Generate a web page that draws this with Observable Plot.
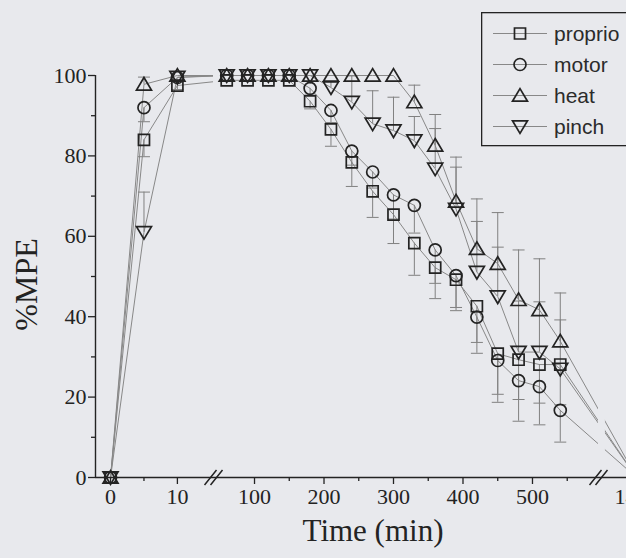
<!DOCTYPE html>
<html><head><meta charset="utf-8">
<script src="https://cdn.jsdelivr.net/npm/d3@7"></script>
<script src="https://cdn.jsdelivr.net/npm/@observablehq/plot@0.6"></script>
<style>
html,body{margin:0;padding:0;background:#e8e9ed;overflow:hidden;}
#wrap{position:relative;width:626px;height:558px;}
#legend{position:absolute;left:481px;top:12px;}
</style></head><body><div id="wrap"></div>
<script>
// ---- data ----
const times = [0, 5, 10, 60, 90, 120, 150, 180, 210, 240, 270, 300, 330, 360, 390, 420, 450, 480, 510, 540, 1440];
const proprio   = [0, 84, 97.5, 98.8, 98.8, 98.8, 98.8, 93.6, 86.6, 78.4, 71.2, 65.4, 58.3, 52.2, 49.2, 42.6, 30.8, 29.3, 28.1, 28.1, 0];
const proprioSE = [0, 4.2, 1, 0, 0, 0, 0, 1.9, 4.2, 6, 6.5, 7.2, 8, 7.7, 7.7, 9, 10.1, 9.9, 9.6, 10, 0];
const motor     = [0, 92, 99.5, 100, 100, 100, 100, 96.8, 91.3, 81.2, 76, 70.3, 67.7, 56.6, 50.2, 39.9, 29.1, 24.1, 22.6, 16.7, 0];
const motorSE   = [0, 3.5, 0, 0, 0, 0, 0, 2, 3, 3.5, 4, 6, 6.9, 8.3, 7.9, 9, 10.4, 10.1, 9.5, 7.9, 0];
const heat      = [0, 97.8, 100, 100, 100, 100, 100, 100, 100, 100, 100, 100, 93.4, 82.6, 68.7, 56.9, 53.2, 44.2, 41.7, 33.9, 0];
const heatSE    = [0, 1.8, 0, 0, 0, 0, 0, 0, 0, 0, 0, 0, 4.2, 7.7, 11, 12.4, 12.7, 12.4, 12.7, 12, 0];
const pinch     = [0, 61, 99.6, 100, 100, 100, 100, 100, 97, 93.4, 88, 86.3, 83.8, 76.8, 66.8, 51.1, 45, 31.2, 31.2, 27, 0];
const pinchSE   = [0, 10, 0, 0, 0, 0, 0, 0, 1.5, 6.5, 8.2, 8.3, 6, 10, 10.4, 12.6, 12.3, 12.7, 12.5, 12.2, 0];

const seriesNames = ["proprio", "motor", "heat", "pinch"];
const errorDirection = [-1, -1, 1, 1];

// axis (broken x axis: piecewise scale)
const xBreakDomain = [-2.25, 15.4, 44, 595, 1388, 1440];
const xBreakRange  = [95, 213, 215.1, 598, 603, 636];
const xGaps = [[15.4, 51], [595, 1391]];
const xBreaks = [15.55, 595.5];
const xTicks = [0, 10, 100, 200, 300, 400, 500, 1440];
const xMinorTicks = [5, 150, 250, 350, 450, 550];
const yTicks = [0, 20, 40, 60, 80, 100];
const yMinorTicks = [10, 30, 50, 70, 90];

// ---- build tables ----
const seriesValues = [proprio, motor, heat, pinch];
const seriesSE = [proprioSE, motorSE, heatSE, pinchSE];
const rows = seriesNames.flatMap((s, i) => times.map((t, j) => ({
  series: s, t, v: seriesValues[i][j], se: seriesSE[i][j], dir: errorDirection[i]
})));
const errRows = rows.filter(d => d.se > 0).map(d => ({...d, end: d.v + d.dir * d.se}));

// ---- symbols ----
const R = s => Math.sqrt(s / Math.PI);
const squareSym = {draw(c, s) {const h = R(s) * 0.92; c.moveTo(-h, -h); c.lineTo(h, -h); c.lineTo(h, h); c.lineTo(-h, h); c.closePath();}};
const circleSym = {draw(c, s) {const r = R(s); c.moveTo(r, 0); c.arc(0, 0, r, 0, 2 * Math.PI);}};
const triUpSym = {draw(c, s) {const r = R(s); c.moveTo(0, -1.15 * r); c.lineTo(1.25 * r, 0.95 * r); c.lineTo(-1.25 * r, 0.95 * r); c.closePath();}};
const triDownSym = {draw(c, s) {const r = R(s); c.moveTo(0, 1.15 * r); c.lineTo(1.25 * r, -0.95 * r); c.lineTo(-1.25 * r, -0.95 * r); c.closePath();}};
const capSym = {draw(c, s) {const r = R(s); c.moveTo(-r, 0); c.lineTo(r, 0);}};
const breakSym = {draw(c, s) {const r = R(s); c.moveTo(-1.2 * r, r); c.lineTo(0.4 * r, -r); c.moveTo(-0.4 * r, r); c.lineTo(1.2 * r, -r);}};
const seriesSymbols = [squareSym, circleSym, triUpSym, triDownSym];

const bg = "#e8e9ed";
const ink = "#232323";
const serif = "'Liberation Serif', 'Times New Roman', serif";

const marks = [
  Plot.line(rows, {x: "t", y: "v", z: "series", stroke: "#888", strokeWidth: 1}),
  Plot.rect(xGaps, {x1: d => d[0], x2: d => d[1], y1: 0, y2: 100, insetBottom: 3, insetTop: -6, fill: bg}),
  Plot.ruleX(errRows, {x: "t", y1: "v", y2: "end", stroke: "#808080", strokeWidth: 1}),
  Plot.dot(errRows, {x: "t", y: "end", symbol: capSym, r: 6, stroke: "#808080", strokeWidth: 1, fill: "none"}),
  ...seriesNames.map((s, i) => Plot.dot(rows.filter(d => d.series === s), {
    x: "t", y: "v", symbol: seriesSymbols[i], r: 6, stroke: ink, strokeWidth: 1.7, fill: "none"
  })),
  Plot.ruleY([0], {stroke: ink, strokeWidth: 1.4}),
  Plot.ruleX([xBreakDomain[0]], {y1: 0, y2: 100, stroke: ink, strokeWidth: 1.4}),
  Plot.axisX(xTicks, {tickSize: 7, tickPadding: 4, fontSize: 22, fontFamily: serif, label: null, tickFormat: d => String(d), stroke: ink, strokeWidth: 1.3}),
  Plot.axisX(xMinorTicks, {tickSize: 4, label: null, tickFormat: () => "", stroke: ink, strokeWidth: 1.3}),
  Plot.axisY(yTicks, {tickSize: 7, tickPadding: 2, fontSize: 22, fontFamily: serif, label: null, tickFormat: d => String(d), stroke: ink, strokeWidth: 1.3}),
  Plot.axisY(yMinorTicks, {tickSize: 4, label: null, tickFormat: () => "", stroke: ink, strokeWidth: 1.3}),
  Plot.dot(xBreaks, {x: d => d, y: 0, symbol: breakSym, r: 7.5, stroke: ink, strokeWidth: 1.5, fill: "none"}),
  Plot.text(["Time (min)"], {text: d => d, frameAnchor: "bottom", dx: 12, dy: 63, fontSize: 31, fontFamily: serif, fill: ink}),
  Plot.text(["%MPE"], {text: d => d, frameAnchor: "left", textAnchor: "middle", rotate: -90, dx: -69, dy: 8, fontSize: 32, fontFamily: serif, fill: ink})
];

const chart = Plot.plot({
  width: 626, height: 558,
  marginLeft: 95, marginRight: 0, marginTop: 75, marginBottom: 81,
  style: {background: bg, color: ink, fontFamily: serif, overflow: "hidden"},
  x: {type: "linear", domain: xBreakDomain, range: xBreakRange},
  y: {domain: [0, 100]},
  marks
});
document.getElementById("wrap").appendChild(chart);

// ---- legend (inside the plot, top right) ----
const lg = d3.select("#wrap").append("svg").attr("id", "legend").attr("width", 145).attr("height", 135);
lg.append("rect").attr("x", 0.65).attr("y", 0.65).attr("width", 300).attr("height", 133)
  .attr("fill", "none").attr("stroke", ink).attr("stroke-width", 1.3);
seriesNames.forEach((s, i) => {
  const y = 21.5 + i * 31;
  lg.append("line").attr("x1", 12).attr("x2", 66).attr("y1", y).attr("y2", y).attr("stroke", "#888").attr("stroke-width", 1);
  const p = d3.path(); seriesSymbols[i].draw(p, Math.PI * 36);
  lg.append("path").attr("d", p.toString()).attr("transform", `translate(39,${y})`)
    .attr("fill", "none").attr("stroke", ink).attr("stroke-width", 1.7);
  lg.append("text").attr("x", 73).attr("y", y).attr("dy", "0.36em").text(s)
    .attr("font-family", "'Liberation Sans', Arial, sans-serif").attr("font-size", 21).attr("fill", "#2b2b2b");
});
</script></body></html>
